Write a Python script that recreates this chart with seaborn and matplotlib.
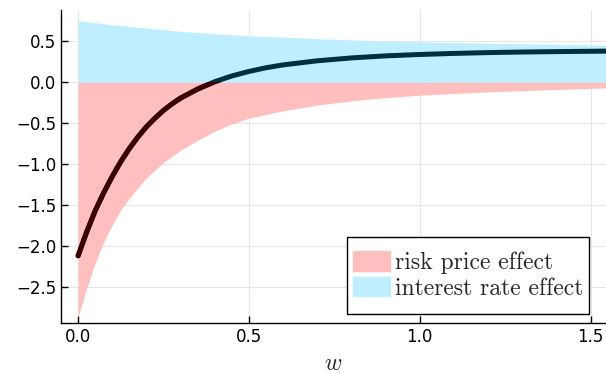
import numpy as np
import matplotlib
matplotlib.use("Agg")
import matplotlib.pyplot as plt
from matplotlib.patches import Patch, Rectangle
import seaborn as sb

sb.set_style("ticks")
plt.rcParams.update({'font.size': 12, 'mathtext.fontset': 'cm'})

# values
w_risk = [0, 0.0125, 0.025, 0.0375, 0.05, 0.075, 0.1, 0.125, 0.15, 0.175, 0.2, 0.25, 0.3, 0.35,
          0.4, 0.45, 0.5, 0.6, 0.7, 0.8, 0.9, 1.0, 1.2, 1.4, 1.55]
risk = [-2.87, -2.69, -2.52, -2.36, -2.21, -1.95, -1.74, -1.56, -1.42, -1.29, -1.17, -0.98, -0.83, -0.71,
        -0.60, -0.51, -0.44, -0.35, -0.28, -0.23, -0.19, -0.16, -0.12, -0.09, -0.07]

w_rate = [0, 0.1, 0.2, 0.3, 0.4, 0.5, 0.6, 0.7, 0.8, 0.9, 1.0, 1.2, 1.4, 1.55]
rate = [0.75, 0.70, 0.66, 0.62, 0.59, 0.565, 0.55, 0.53, 0.515, 0.50, 0.49, 0.475, 0.46, 0.45]

w_total = [0, 0.025, 0.05, 0.075, 0.1, 0.125, 0.15, 0.175, 0.2, 0.225, 0.25, 0.275, 0.3, 0.35,
           0.4, 0.45, 0.5, 0.55, 0.6, 0.7, 0.8, 0.9, 1.0, 1.1, 1.2, 1.3, 1.4, 1.55]
total = [-2.12, -1.83, -1.57, -1.35, -1.15, -0.97, -0.81, -0.67, -0.545, -0.44, -0.345, -0.265, -0.195, -0.085,
         0.005, 0.075, 0.13, 0.175, 0.21, 0.26, 0.295, 0.32, 0.337, 0.35, 0.36, 0.367, 0.372, 0.378]

red_fill = "#ffbfbf"
blue_fill = "#bfeeff"
red_line = "#3d0000"
blue_line = "#00303f"

fig = plt.figure(figsize=(6.06, 3.74), dpi=100)
ax = fig.add_axes([0.1007, 0.1364, 0.8993, 0.8369])

ax.fill_between(w_risk, 0, risk, color=red_fill, lw=0)
ax.fill_between(w_rate, 0, rate, color=blue_fill, lw=0)

# line is dark teal above zero, dark red below
sb.lineplot(x=w_total, y=total, color=blue_line, lw=3.6, ax=ax, zorder=3)
neg = sb.lineplot(x=w_total, y=total, color=red_line, lw=3.6, ax=ax, zorder=4).lines[-1]
neg.set_clip_path(Rectangle((-1, -10), 5, 10, transform=ax.transData))
for ln in ax.lines:
    ln.set_solid_capstyle('round')
    ln.set_solid_joinstyle('round')

ax.set_xlim(-0.05, 1.545)
ax.set_ylim(-2.94, 0.88)
ax.set_xticks([0, 0.5, 1.0, 1.5])
ax.set_yticks([0.5, 0.0, -0.5, -1.0, -1.5, -2.0, -2.5])
ax.grid(color='#e6e6e6', lw=0.8)
ax.set_axisbelow(True)
for s in ['top', 'right']:
    ax.spines[s].set_visible(False)
for s in ['left', 'bottom']:
    ax.spines[s].set_color('black')
    ax.spines[s].set_linewidth(1.0)
ax.tick_params(direction='in', length=5, width=1, labelsize=12, colors='black')
ax.set_xlabel("$w$", fontsize=17, labelpad=4)

# legend: frame drawn separately so it can have more vertical room than horizontal
x0, x1, y0, y1 = 0.5248, 0.9688, 0.0288, 0.2748
ax.add_patch(Rectangle((x0, y0), x1 - x0, y1 - y0, transform=ax.transAxes,
                       facecolor='white', edgecolor='black', lw=1.0, zorder=5))
handles = [Patch(color=red_fill, label="risk price effect"),
           Patch(color=blue_fill, label="interest rate effect")]
leg = ax.legend(handles=handles, loc='center', bbox_to_anchor=((x0 + x1) / 2, (y0 + y1) / 2),
                borderaxespad=0, frameon=False, borderpad=0,
                prop={'family': 'cmr10', 'size': 17}, handlelength=1.57,
                handleheight=0.9, handletextpad=0.21, labelspacing=0.1)
leg.set_zorder(6)

plt.savefig("out.png", dpi=100)
